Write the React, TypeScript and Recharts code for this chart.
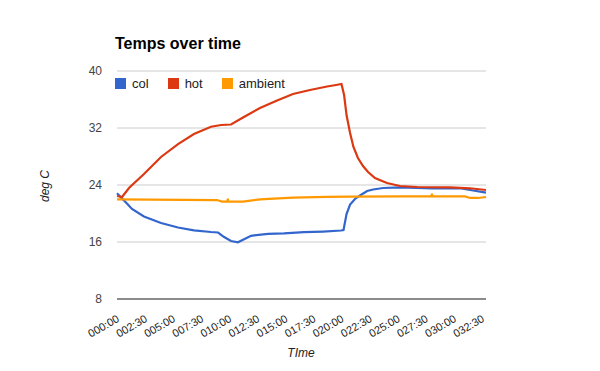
import { CartesianGrid, Line, LineChart, XAxis, YAxis } from "recharts"

// seconds since start
const xTicks = [0, 150, 300, 450, 600, 750, 900, 1050, 1200, 1350, 1500, 1650, 1800, 1950]
const yTicks = [8, 16, 24, 32, 40]

const colTimes = [0, 27, 53, 80, 144, 235, 326, 411, 502, 540, 572, 609, 646, 716, 807, 892, 999, 1100, 1197, 1210, 1226, 1245, 1271, 1298, 1336, 1368, 1421, 1512, 1688, 1832, 1902, 1971]
const colTemps = [22.84, 22.11, 21.4, 20.63, 19.58, 18.67, 18.04, 17.64, 17.4, 17.33, 16.7, 16.14, 15.96, 16.87, 17.15, 17.22, 17.38, 17.47, 17.61, 17.68, 19.93, 21.26, 22.04, 22.53, 23.16, 23.37, 23.58, 23.68, 23.54, 23.54, 23.23, 22.92]

const hotTimes = [0, 27, 64, 144, 235, 326, 411, 502, 556, 609, 673, 764, 855, 940, 1031, 1122, 1170, 1199, 1213, 1226, 1245, 1263, 1287, 1314, 1341, 1378, 1442, 1512, 1603, 1779, 1886, 1971]
const hotTemps = [22.46, 22.32, 23.58, 25.54, 27.93, 29.75, 31.16, 32.18, 32.42, 32.49, 33.47, 34.81, 35.86, 36.77, 37.33, 37.82, 38.04, 38.18, 36.63, 33.82, 31.3, 29.33, 27.79, 26.67, 25.82, 24.98, 24.28, 23.86, 23.72, 23.68, 23.54, 23.3]

const ambientTimes = [0, 534, 561, 590, 592, 594, 673, 764, 940, 1122, 1245, 1512, 1680, 1682, 1684, 1859, 1886, 1928, 1971]
const ambientTemps = [21.97, 21.89, 21.68, 21.7, 22.1, 21.7, 21.68, 21.97, 22.22, 22.32, 22.37, 22.39, 22.4, 22.8, 22.4, 22.39, 22.18, 22.18, 22.32]

const rows = (ts: number[], vs: number[]) => ts.map((t, i) => ({ t, v: vs[i] }))

const series = [
  { name: "col", color: "#3366cc", data: rows(colTimes, colTemps) },
  { name: "hot", color: "#dc3912", data: rows(hotTimes, hotTemps) },
  { name: "ambient", color: "#ff9900", data: rows(ambientTimes, ambientTemps) },
]

const font = "Arial, 'Liberation Sans', sans-serif"

const fmt = (s: number) => {
  const m = Math.floor(s / 60)
  const sec = s % 60
  return `${String(m).padStart(3, "0")}:${String(sec).padStart(2, "0")}`
}

function TimeTick(props: any) {
  const { x, payload } = props
  return (
    <g transform={`translate(${x + 3},${321}) rotate(-30)`}>
      <text textAnchor="end" fontSize={11} fill="#222" fontFamily={font}>
        {fmt(payload.value)}
      </text>
    </g>
  )
}

export default function App() {
  return (
    <div style={{ position: "absolute", left: 0, top: 0, width: 600, height: 371, fontFamily: font, background: "#fff" }}>
      <div style={{ position: "absolute", left: 115, top: 35, fontSize: 16, fontWeight: "bold", color: "#000", lineHeight: "normal" }}>
        Temps over time
      </div>
      <div style={{ position: "absolute", left: 115, top: 78, height: 11, display: "flex", alignItems: "center", gap: 19, zIndex: 2 }}>
        {series.map((s) => (
          <div key={s.name} style={{ display: "flex", alignItems: "center" }}>
            <span style={{ width: 11, height: 11, background: s.color, marginRight: 6, display: "inline-block" }} />
            <span style={{ fontSize: 13, color: "#222" }}>{s.name}</span>
          </div>
        ))}
      </div>
      <LineChart width={600} height={371} margin={{ top: 71, right: 114, bottom: 0, left: 0 }}>
        <CartesianGrid horizontal vertical={false} stroke="#cccccc" />
        <XAxis
          type="number"
          dataKey="t"
          domain={[0, 1971]}
          ticks={xTicks}
          height={72}
          tickLine={false}
          axisLine={{ stroke: "#333333" }}
          tick={<TimeTick />}
          interval={0}
          label={{
            content: () => (
              <text x={301} y={357} textAnchor="middle" fontSize={12} fontStyle="italic" fill="#222" fontFamily={font}>
                TIme
              </text>
            ),
          }}
        />
        <YAxis
          type="number"
          domain={[8, 40]}
          ticks={yTicks}
          width={117}
          tickLine={false}
          axisLine={false}
          tickSize={0}
          tickMargin={15}
          tick={{ fontSize: 12, fill: "#444", fontFamily: font }}
          label={{
            content: () => (
              <text x={49} y={186} transform="rotate(-90 49 186)" textAnchor="middle" fontSize={12} fontStyle="italic" fill="#222" fontFamily={font}>
                deg C
              </text>
            ),
          }}
        />
        {series.map((s) => (
          <Line
            key={s.name}
            data={s.data}
            dataKey="v"
            name={s.name}
            type="linear"
            stroke={s.color}
            strokeWidth={2.2}
            dot={false}
            isAnimationActive={false}
          />
        ))}
      </LineChart>
    </div>
  )
}
